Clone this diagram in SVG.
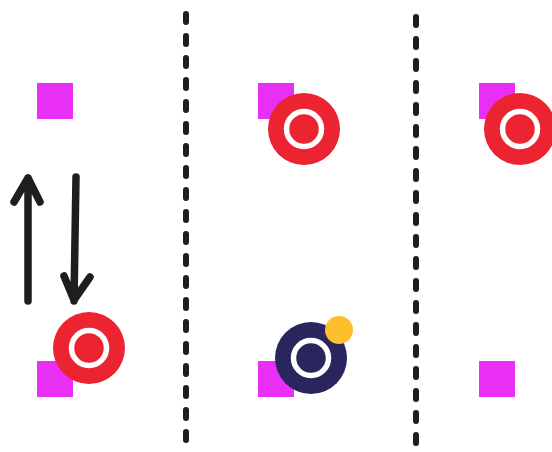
<svg xmlns="http://www.w3.org/2000/svg" width="552" height="452" viewBox="0 0 552 452">
<style>
.sq{fill:#e92ef6}
.red{fill:#ec2331}
.navy{fill:#29265e}
.ring{fill:none;stroke:#fff;stroke-width:5.5}
.dash{fill:none;stroke:#1e1e1e;stroke-width:6;stroke-linecap:round;stroke-dasharray:8 14}
.arr{fill:none;stroke:#1e1e1e;stroke-width:7.5;stroke-linecap:round;stroke-linejoin:round}
</style>
<rect width="552" height="452" fill="#fff"/>
<g id="dividers">
<path class="dash" d="M186 14 L186 448"/>
<path class="dash" d="M416 17 L416 450"/>
</g>
<g id="squares">
<rect class="sq" x="37" y="83" width="36" height="36"/>
<rect class="sq" x="258" y="83" width="36" height="36"/>
<rect class="sq" x="479" y="83" width="36" height="36"/>
<rect class="sq" x="37" y="361" width="36" height="36"/>
<rect class="sq" x="258" y="361" width="36" height="36"/>
<rect class="sq" x="479" y="361" width="36" height="36"/>
</g>
<g id="node-top-mid">
<circle class="red" cx="304" cy="129" r="36"/>
<circle class="ring" cx="304" cy="129" r="17.5"/>
</g>
<g id="node-top-right">
<circle class="red" cx="520" cy="129" r="36"/>
<circle class="ring" cx="520" cy="129" r="17.5"/>
</g>
<g id="node-bottom-left">
<circle class="red" cx="89" cy="348" r="36"/>
<circle class="ring" cx="89" cy="348" r="17.5"/>
</g>
<g id="node-bottom-mid">
<circle class="navy" cx="311" cy="358" r="36"/>
<circle class="ring" cx="311" cy="358" r="17.5"/>
<circle fill="#fdbf2d" cx="339" cy="330" r="14"/>
</g>
<g id="connectors">
<path class="arr" d="M28 301 L28 178 M14 202 L28 178 L40 202"/>
<path class="arr" d="M76 177 L74 301 M64 276 L74 300 L90 277"/>
</g>
</svg>
